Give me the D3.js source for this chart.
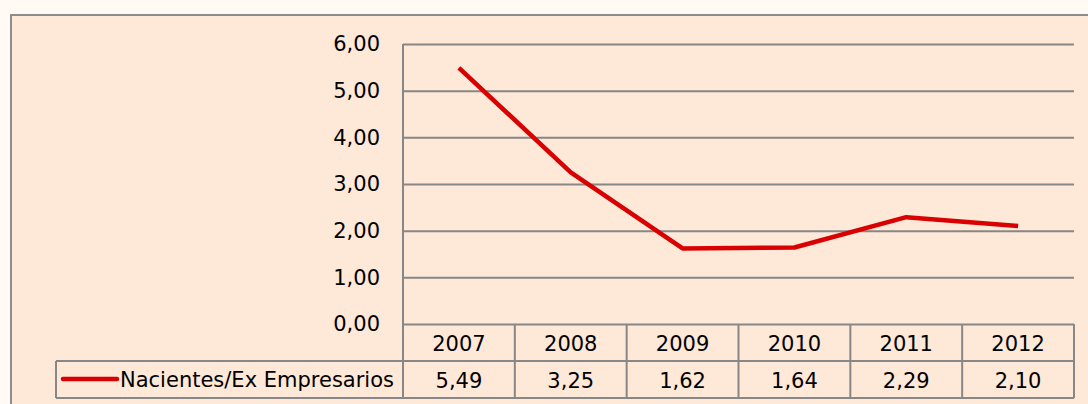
<!DOCTYPE html>
<html>
<head>
<meta charset="utf-8">
<script src="https://cdn.jsdelivr.net/npm/d3@7"></script>
<style>
  html, body { margin: 0; padding: 0; background: #fffaf3; }
  svg { display: block; font-family: "DejaVu Sans", sans-serif; }
</style>
</head>
<body>
<div id="chart"></div>
<script>
let width = 1088, height = 404;
let margin = ({top: 44, right: 14, bottom: 80, left: 403});

let years = ["2007", "2008", "2009", "2010", "2011", "2012"];
let values = [5.49, 3.25, 1.62, 1.64, 2.29, 2.10];
let seriesName = "Nacientes/Ex Empresarios";
let yTicks = [0, 1, 2, 3, 4, 5, 6];

let fmt = v => d3.format(".2f")(v).replace(".", ",");
let gridColor = "#878787";
let red = "#d80000";
let fontSize = 21;

let svg = d3.select("#chart").append("svg")
    .attr("width", width).attr("height", height);

// chart area box
svg.append("rect")
    .attr("x", 11).attr("y", 15)
    .attr("width", width).attr("height", height)
    .attr("fill", "#fee8d7")
    .attr("stroke", "#8c8c8c").attr("stroke-width", 2);

let x = d3.scaleBand()
    .domain(years)
    .range([margin.left, width - margin.right]);
let y = d3.scaleLinear()
    .domain([0, 6])
    .range([324, margin.top]);

// gridlines + y labels
let yAxis = g => g
    .attr("transform", `translate(${margin.left},0)`)
    .call(d3.axisLeft(y).tickValues(yTicks).tickFormat(fmt)
        .tickSize(-(width - margin.right - margin.left)).tickPadding(23))
    .call(g => g.select(".domain").remove())
    .call(g => g.selectAll(".tick line").attr("stroke", gridColor).attr("stroke-width", 2))
    .call(g => g.selectAll(".tick text").attr("fill", "#000").attr("font-size", fontSize)
        .attr("font-family", "'DejaVu Sans', sans-serif"));
svg.append("g").call(yAxis);

// table
let row1 = y(0), row2 = 361, row3 = 398;
let tbl = svg.append("g").attr("stroke", gridColor).attr("stroke-width", 2).attr("fill", "none");
tbl.append("line").attr("x1", margin.left).attr("x2", margin.left).attr("y1", margin.top).attr("y2", row3);
tbl.append("line").attr("x1", 56).attr("x2", x.range()[1]).attr("y1", row2).attr("y2", row2);
tbl.append("line").attr("x1", 56).attr("x2", x.range()[1]).attr("y1", row3).attr("y2", row3);
tbl.append("line").attr("x1", 56).attr("x2", 56).attr("y1", row2).attr("y2", row3);
tbl.selectAll(".col").data(years).join("line")
    .attr("x1", d => x(d) + x.bandwidth()).attr("x2", d => x(d) + x.bandwidth())
    .attr("y1", row1).attr("y2", row3);

svg.append("g").selectAll("text").data(years).join("text")
    .attr("x", d => x(d) + x.bandwidth() / 2)
    .attr("y", (row1 + row2) / 2 + 8)
    .attr("text-anchor", "middle").attr("font-size", fontSize)
    .text(d => d);

svg.append("g").selectAll("text").data(values).join("text")
    .attr("x", (d, i) => x(years[i]) + x.bandwidth() / 2)
    .attr("y", (row2 + row3) / 2 + 8)
    .attr("text-anchor", "middle").attr("font-size", fontSize)
    .text(d => fmt(d));

// legend key
svg.append("line")
    .attr("x1", 63).attr("x2", 117).attr("y1", 379).attr("y2", 379)
    .attr("stroke", red).attr("stroke-width", 4.5).attr("stroke-linecap", "round");
svg.append("text")
    .attr("x", 120).attr("y", 387)
    .attr("font-size", fontSize).text(seriesName);

// line
let line = d3.line()
    .x((d, i) => x(years[i]) + x.bandwidth() / 2)
    .y(d => y(d));
svg.append("path")
    .datum(values)
    .attr("fill", "none")
    .attr("stroke", red)
    .attr("stroke-width", 4.5)
    .attr("stroke-linejoin", "round")
    .attr("d", line);
</script>
</body>
</html>
